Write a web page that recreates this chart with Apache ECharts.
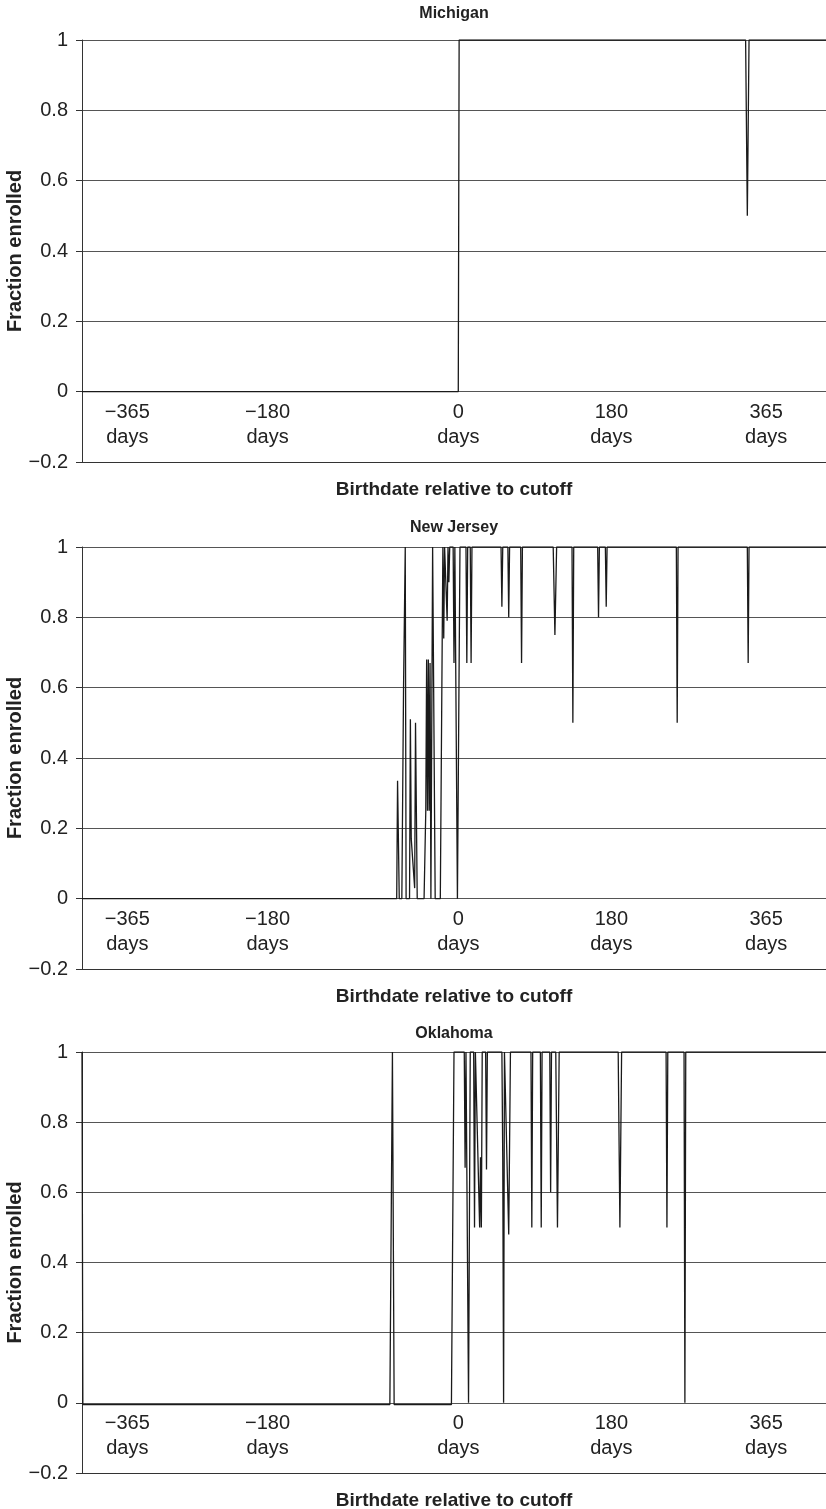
<!DOCTYPE html>
<html><head><meta charset="utf-8">
<script src="https://cdn.jsdelivr.net/npm/echarts@6/dist/echarts.min.js"></script>
<style>html,body{margin:0;padding:0;background:#fff}#c{width:826px;height:1509px}</style>
</head><body><div id="c"></div>
<script>
// ---- data (day relative to cutoff, fraction enrolled) ----
const states = ['Michigan', 'New Jersey', 'Oklahoma'];
const michigan = [[-440,0],[0,0],[1,1],[336,1],[338,0.5],[340,1],[430,1]];
const newJersey = [[-440,0],[-72,0],[-71,0.335],[-69,0],[-66,0],[-64,0.6],[-62,1],[-61,0],[-57,0],[-56,0.51],[-55,0.17],[-51,0.03],[-50,0.5],[-48,0],[-40,0],[-38,0.25],[-37,0.68],[-36,0.25],[-35,0.68],[-34,0.25],[-33,0.67],[-32,0],[-31,0],[-30,1],[-28,1],[-27,0],[-21,0],[-18,1],[-17,0.74],[-16,1],[-14,1],[-13,0.79],[-12,1],[-11,0.9],[-10,1],[-6,1],[-5,0.67],[-4,1],[-3,1],[-1,0],[2,1],[9,1],[10,0.67],[11,1],[14,1],[15,0.67],[16,1],[50,1],[51,0.83],[52,1],[58,1],[59,0.8],[60,1],[73,1],[74,0.67],[75,1],[111,1],[113,0.75],[115,1],[133,1],[134,0.5],[135,1],[163,1],[164,0.8],[165,1],[172,1],[173,0.83],[174,1],[255,1],[256,0.5],[257,1],[338,1],[339,0.67],[340,1],[430,1]];
const oklahoma = [[-440,1],[-439,-0.005],[-80,-0.005],[-77,1],[-75,-0.005],[-8,-0.005],[-5,1],[7,1],[8,0.67],[9,1],[11,1],[12,0],[14,1],[18,1],[19,0.5],[20,1],[22,1],[25,0.5],[26,0.7],[27,0.5],[28,1],[32,1],[33,0.665],[34,1],[51,1],[52,0.7],[53,0],[54,1],[56,1],[59,0.48],[61,1],[85,1],[86,0.5],[87,1],[96,1],[97,0.5],[98,1],[107,1],[108,0.6],[109,1],[114,1],[116,0.5],[118,1],[187,1],[189,0.5],[191,1],[243,1],[244,0.5],[245,1],[264,1],[265,0],[266,1],[430,1]];
const seriesData = [michigan, newJersey, oklahoma];
const xTickLabels = ['−365', '−180', '0', '180', '365'];
const xUnit = 'days';
const yTickMin = -0.2, yTickMax = 1, yTickStep = 0.2;
const xTitle = 'Birthdate relative to cutoff';
const yTitle = 'Fraction enrolled';

// ---- layout ----
const xMin = -440, xMax = 430;
const labelAnchors = [-387, -223, 0, 179, 360]; // where the reference prints each tick label
const gridTops = [40, 547, 1052];
const gridHeights = [422, 422, 421];
const titleYs = [14, 528, 1034];
const FONT = '"Liberation Sans", Arial, Helvetica, sans-serif';

const chart = echarts.init(document.getElementById('c'), null, {renderer: 'canvas'});
const grids = [], xAxes = [], yAxes = [], series = [], graphics = [];
states.forEach((s, i) => {
  grids.push({left: 82, right: 0, top: gridTops[i], height: gridHeights[i], containLabel: false, outerBoundsMode: 'none'});
  xAxes.push({
    type: 'value', gridIndex: i, min: xMin, max: xMax,
    axisLine: {show: true, onZero: false, lineStyle: {color: '#333', width: 1}},
    axisTick: {show: false},
    splitLine: {show: false},
    axisLabel: {
      inside: true, margin: 12, customValues: labelAnchors,
      formatter: v => xTickLabels[labelAnchors.indexOf(v)] + '\n' + xUnit,
      fontFamily: FONT, fontSize: 20, color: '#222', lineHeight: 25, align: 'center'
    },
    name: xTitle, nameLocation: 'middle', nameGap: 18, nameMoveOverlap: false,
    nameTextStyle: {fontFamily: FONT, fontSize: 19, fontWeight: 'bold', color: '#222'}
  });
  yAxes.push({
    type: 'value', gridIndex: i, min: yTickMin, max: yTickMax, interval: yTickStep,
    axisLine: {show: true, onZero: false, lineStyle: {color: '#333', width: 1}},
    axisTick: {show: true, length: 6, lineStyle: {color: '#333'}},
    splitLine: {show: true, lineStyle: {color: '#555', width: 1}},
    axisLabel: {
      margin: 14, fontFamily: FONT, fontSize: 20, color: '#222',
      formatter: v => { const r = Math.round(v * 10) / 10; return r < 0 ? '−' + Math.abs(r) : String(r); }
    },
    name: yTitle, nameLocation: 'middle', nameGap: 57, nameRotate: 90, nameMoveOverlap: false,
    nameTextStyle: {fontFamily: FONT, fontSize: 20, fontWeight: 'bold', color: '#222'}
  });
  series.push({
    type: 'line', xAxisIndex: i, yAxisIndex: i, data: seriesData[i],
    symbol: 'none', showSymbol: false, animation: false,
    lineStyle: {color: '#1a1a1a', width: 1.3}
  });
  graphics.push({
    type: 'text', x: 454, y: titleYs[i],
    style: {text: s, font: 'bold 16px ' + FONT, fill: '#222', textAlign: 'center', textVerticalAlign: 'middle'}
  });
});
chart.setOption({
  animation: false,
  backgroundColor: '#fff',
  grid: grids, xAxis: xAxes, yAxis: yAxes, series: series, graphic: graphics
});
</script></body></html>
